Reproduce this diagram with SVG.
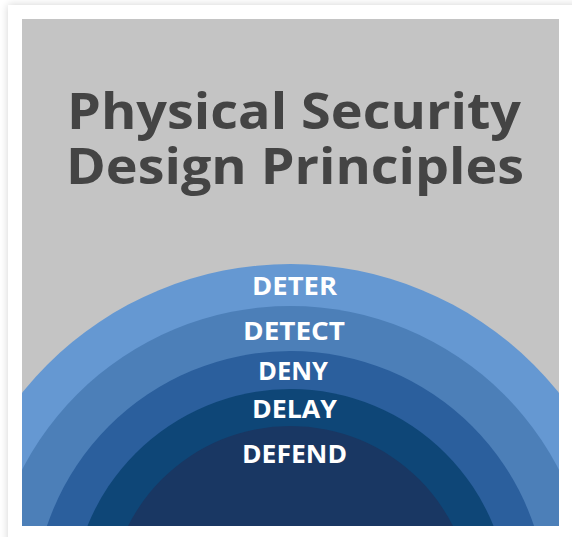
<svg xmlns="http://www.w3.org/2000/svg" width="572" height="537" viewBox="0 0 572 537">
  <defs>
    <style>
      .title { font-family: "Open Sans", "Lato", "Liberation Sans", sans-serif; font-weight: 700; font-size: 50px; fill: #444444; text-anchor: middle; }
      .layer { font-family: "Open Sans", "Lato", "Liberation Sans", sans-serif; font-weight: 700; font-size: 25px; fill: #ffffff; text-anchor: middle; }
    </style>
    <filter id="cardShadow" x="-10%" y="-10%" width="120%" height="120%">
      <feGaussianBlur in="SourceAlpha" stdDeviation="4"/>
      <feComponentTransfer><feFuncA type="linear" slope="0.18"/></feComponentTransfer>
      <feMerge><feMergeNode/><feMergeNode in="SourceGraphic"/></feMerge>
    </filter>
    <clipPath id="panelClip">
      <rect x="22" y="19" width="537" height="507"/>
    </clipPath>
  </defs>

  <!-- page and card -->
  <rect x="0" y="0" width="572" height="537" fill="#ffffff"/>
  <rect x="8" y="5" width="580" height="550" fill="#ffffff" filter="url(#cardShadow)"/>

  <!-- grey panel -->
  <rect id="panel" x="22" y="19" width="537" height="507" fill="#c4c4c4"/>

  <!-- title -->
  <g id="title">
    <text class="title" x="294" y="129" textLength="454" lengthAdjust="spacingAndGlyphs">Physical Security</text>
    <text class="title" x="295" y="184" textLength="458" lengthAdjust="spacingAndGlyphs">Design Principles</text>
  </g>

  <!-- concentric layers, outermost first -->
  <g clip-path="url(#panelClip)">
    <g id="deter"><circle cx="290.5" cy="608" r="344" fill="#6598d2"/></g>
    <g id="detect"><circle cx="290.5" cy="608" r="302" fill="#4c7fb8"/></g>
    <g id="deny"><circle cx="290.5" cy="608" r="257" fill="#2b5f9d"/></g>
    <g id="delay"><circle cx="290.5" cy="608" r="219" fill="#0e4677"/></g>
    <g id="defend"><circle cx="290.5" cy="608" r="182" fill="#193763"/></g>
  </g>

  <!-- layer labels -->
  <g id="labels">
    <text class="layer" x="294.5" y="295" textLength="85" lengthAdjust="spacingAndGlyphs">DETER</text>
    <text class="layer" x="294" y="340" textLength="102" lengthAdjust="spacingAndGlyphs">DETECT</text>
    <text class="layer" x="293" y="380" textLength="70" lengthAdjust="spacingAndGlyphs">DENY</text>
    <text class="layer" x="294.5" y="418" textLength="85" lengthAdjust="spacingAndGlyphs">DELAY</text>
    <text class="layer" x="294.5" y="463" textLength="105" lengthAdjust="spacingAndGlyphs">DEFEND</text>
  </g>
</svg>
